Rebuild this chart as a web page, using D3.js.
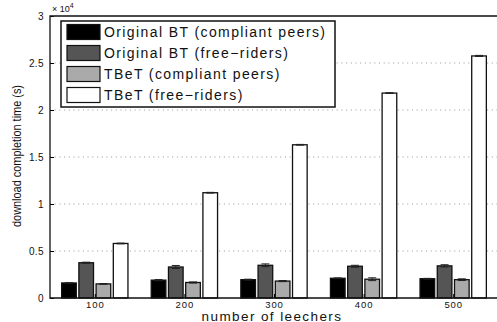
<!DOCTYPE html>
<html>
<head>
<meta charset="utf-8">
<script src="https://cdn.jsdelivr.net/npm/d3@7"></script>
<style>
  body { margin: 0; background: #fff; }
  text { font-family: 'Liberation Sans', Arial, sans-serif; }
</style>
</head>
<body>
<script>
const leechers = [100, 200, 300, 400, 500];
const series = [
  'Original BT (compliant peers)',
  'Original BT (free\u2212riders)',
  'TBeT (compliant peers)',
  'TBeT (free\u2212riders)'
];
const fills = ['#000000', '#555555', '#aaaaaa', '#ffffff'];

// download completion time (s), one array per series
const btCompliant = [1600, 1900, 1950, 2100, 2050];
const btFree = [3750, 3300, 3480, 3380, 3420];
const tbetCompliant = [1500, 1650, 1800, 2000, 1950];
const tbetFree = [5800, 11200, 16300, 21800, 25750];

const btCompliantErr = [40, 60, 50, 40, 40];
const btFreeErr = [60, 160, 150, 100, 120];
const tbetCompliantErr = [40, 60, 60, 150, 90];
const tbetFreeErr = [40, 40, 40, 40, 60];

const yTicks = [0, 5000, 10000, 15000, 20000, 25000, 30000];
const yTickLabels = ['0', '0.5', '1', '1.5', '2', '2.5', '3'];

const values = [btCompliant, btFree, tbetCompliant, tbetFree];
const errs = [btCompliantErr, btFreeErr, tbetCompliantErr, tbetFreeErr];

const width = 497;
const height = 322;
const mLeft = 50, mRight = 498, mTop = 16, mBottom = 298;

const svg = d3.select('body')
  .append('svg')
  .attr('width', width)
  .attr('height', height);

const x = d3.scaleLinear().domain([0.5, 5.5]).range([mLeft, mRight]);
const step = x(2) - x(1);
const x1 = d3.scaleBand()
  .domain(d3.range(series.length))
  .range([-0.37 * step, 0.37 * step])
  .paddingInner(0.15);
const y = d3.scaleLinear().domain([0, 30000]).range([mBottom, mTop]);

// grid
svg.append('g')
  .selectAll('line')
  .data(yTicks.slice(1, -1))
  .enter().append('line')
    .attr('x1', mLeft)
    .attr('x2', width)
    .attr('y1', d => y(d))
    .attr('y2', d => y(d))
    .style('stroke', '#999')
    .style('stroke-width', 1)
    .style('stroke-dasharray', '1,3.7');

// bars
const rows = [];
values.forEach((vals, s) => {
  vals.forEach((v, i) => rows.push({ s: s, i: i, v: v, e: errs[s][i] }));
});

const bars = svg.append('g');
bars.selectAll('rect')
  .data(rows)
  .enter().append('rect')
    .attr('x', d => x(d.i + 1) + x1(d.s))
    .attr('width', x1.bandwidth())
    .attr('y', d => y(d.v))
    .attr('height', d => y(0) - y(d.v))
    .style('fill', d => fills[d.s])
    .style('stroke', '#111')
    .style('stroke-width', 1.3);

// error bars
const eb = svg.append('g')
  .selectAll('g')
  .data(rows)
  .enter().append('g')
    .attr('transform', d => `translate(${x(d.i + 1) + x1(d.s) + x1.bandwidth() / 2},0)`)
    .style('stroke', '#222')
    .style('stroke-width', 1);
eb.append('line')
  .attr('y1', d => y(d.v - d.e))
  .attr('y2', d => y(d.v + d.e));
eb.append('line')
  .attr('x1', -4).attr('x2', 4)
  .attr('y1', d => y(d.v + d.e))
  .attr('y2', d => y(d.v + d.e));
eb.append('line')
  .attr('x1', -4).attr('x2', 4)
  .attr('y1', d => y(d.v - d.e))
  .attr('y2', d => y(d.v - d.e));

// axes box
const yAxis = d3.axisLeft(y)
  .tickValues(yTicks)
  .tickFormat((d, i) => yTickLabels[i])
  .tickSize(-4)
  .tickPadding(6);
const ya = svg.append('g')
  .attr('transform', `translate(${mLeft},0)`)
  .call(yAxis);
ya.select('.domain').remove();
ya.selectAll('.tick line').style('stroke', '#000');
ya.selectAll('text')
  .style('font-size', '10px')
  .style('letter-spacing', '0.4px')
  .style('font-family', "'Liberation Sans', Arial, sans-serif")
  .attr('fill', '#111');

const xAxis = d3.axisBottom(x)
  .tickValues(d3.range(1, leechers.length + 1))
  .tickFormat(d => leechers[d - 1])
  .tickSize(-4)
  .tickPadding(3);
const xa = svg.append('g')
  .attr('transform', `translate(0,${mBottom})`)
  .call(xAxis);
xa.select('.domain').remove();
xa.selectAll('.tick line').style('stroke', '#000');
xa.selectAll('text')
  .style('font-size', '9.5px')
  .style('letter-spacing', '0.9px')
  .style('font-family', "'Liberation Sans', Arial, sans-serif")
  .attr('fill', '#111');

svg.append('path')
  .attr('d', `M${width + 2},${mTop}H${mLeft}V${mBottom}H${width + 2}`)
  .style('fill', 'none')
  .style('stroke', '#111')
  .style('stroke-width', 1.3);

// exponent
const ex = svg.append('text')
  .attr('x', 52)
  .attr('y', 12)
  .style('font-size', '9px')
  .attr('fill', '#111');
ex.append('tspan').text('\u00d7 10');
ex.append('tspan').attr('dy', -4).style('font-size', '7px').text('4');

// axis labels
svg.append('text')
  .attr('x', 272)
  .attr('y', 320.5)
  .attr('text-anchor', 'middle')
  .style('font-size', '13.5px')
  .style('letter-spacing', '1.4px')
  .attr('fill', '#111')
  .text('number of leechers');

svg.append('text')
  .attr('transform', 'translate(21,156) rotate(-90)')
  .attr('text-anchor', 'middle')
  .style('font-size', '12px')
  .attr('textLength', 142)
  .attr('lengthAdjust', 'spacingAndGlyphs')
  .attr('fill', '#111')
  .text('download completion time (s)');

// legend
const legend = svg.append('g').attr('transform', 'translate(61,21)');
legend.append('rect')
  .attr('width', 274)
  .attr('height', 86)
  .style('fill', '#fff')
  .style('stroke', '#111')
  .style('stroke-width', 1.5);
const item = legend.selectAll('g.item')
  .data(series)
  .enter().append('g')
    .attr('class', 'item')
    .attr('transform', (d, i) => `translate(6,${3.5 + i * 21})`);
item.append('rect')
  .attr('width', 33)
  .attr('height', 15)
  .style('fill', (d, i) => fills[i])
  .style('stroke', '#111')
  .style('stroke-width', 1.2);
item.append('text')
  .attr('x', 37)
  .attr('y', 12.5)
  .style('font-size', '14px')
  .style('letter-spacing', '1.4px')
  .attr('fill', '#111')
  .text(d => d);
</script>
</body>
</html>
